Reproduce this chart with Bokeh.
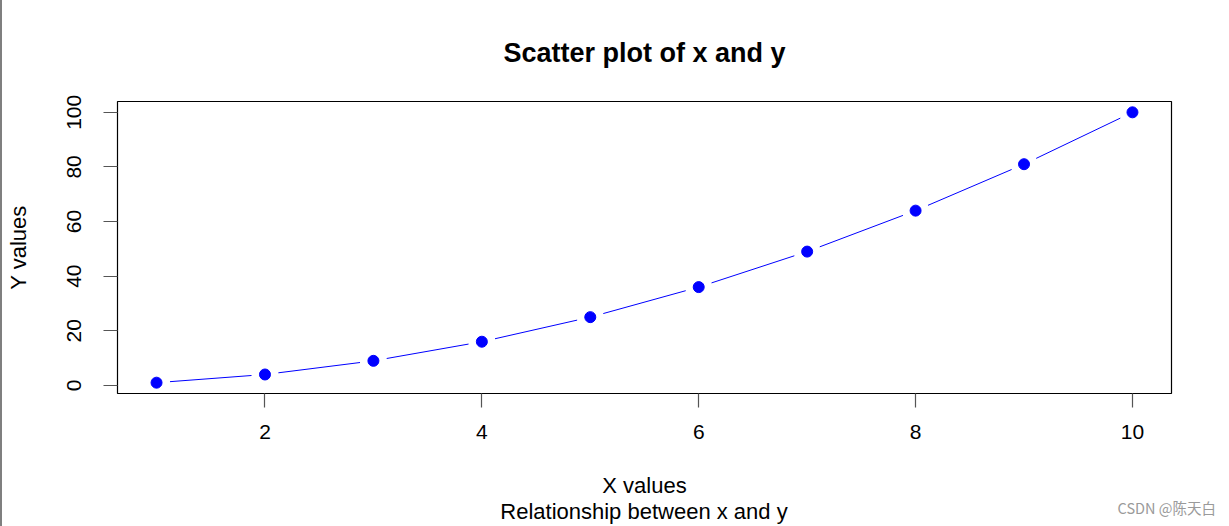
import numpy as np
from bokeh.plotting import figure
from bokeh.models import Range1d, FixedTicker, Div
from bokeh.layouts import row, column
from bokeh.embed import file_html
from bokeh.resources import INLINE

# data
x_vals = [1, 2, 3, 4, 5, 6, 7, 8, 9, 10]
y_vals = [1, 4, 9, 16, 25, 36, 49, 64, 81, 100]
x_ticks = [2, 4, 6, 8, 10]
y_ticks = [0, 20, 40, 60, 80, 100]

subtitle = "Relationship between x and y"
credit = "CSDN @陈天白"

FONT = "Liberation Sans"
W, H = 1227, 526
FOOT = 26
PH = H - FOOT
BL, BR, BT, BB = 115, 58, 101, 106
FW, FH = W - BL - BR, PH - BT - BB

# R-style 4% padding around the data extent
xr = (min(x_vals), max(x_vals))
yr = (min(y_vals), max(y_vals))
xpad = (xr[1] - xr[0]) * 0.04
ypad = (yr[1] - yr[0]) * 0.04
x0, x1 = xr[0] - xpad, xr[1] + xpad
y0, y1 = yr[0] - ypad, yr[1] + ypad

p = figure(width=W, height=PH, output_backend="svg", toolbar_location=None,
           x_range=Range1d(x0, x1), y_range=Range1d(y0, y1),
           min_border_left=BL, min_border_right=BR,
           min_border_top=BT, min_border_bottom=BB, margin=0)

p.background_fill_color = "white"
p.border_fill_color = "white"
p.outline_line_color = "black"
p.outline_line_width = 1.2
p.grid.visible = False

p.title.text = "Scatter plot of x and y"
p.title.align = "center"
p.title.text_font = FONT
p.title.text_font_size = "27px"
p.title.text_font_style = "bold"
p.title.text_color = "black"
p.title.standoff = 67

for ax in (p.xaxis[0], p.yaxis[0]):
    ax.axis_line_color = None
    ax.major_tick_line_color = "#555555"
    ax.major_tick_line_width = 1.2
    ax.major_tick_in = 0
    ax.major_tick_out = 14
    ax.minor_tick_line_color = None
    ax.major_label_text_font = FONT
    ax.major_label_text_font_size = "21px"
    ax.major_label_text_color = "black"
    ax.axis_label_text_font = FONT
    ax.axis_label_text_font_size = "22px"
    ax.axis_label_text_font_style = "normal"
    ax.axis_label_text_color = "black"

p.xaxis.ticker = FixedTicker(ticks=x_ticks)
p.yaxis.ticker = FixedTicker(ticks=y_ticks)
p.yaxis.major_label_orientation = "vertical"
p.xaxis.axis_label = "X values"
p.yaxis.axis_label = "Y values"
p.xaxis.major_label_standoff = 17
p.xaxis.axis_label_standoff = 31
p.yaxis.major_label_standoff = 22
p.yaxis.axis_label_standoff = 34

# connecting segments with gaps around each point (type "b")
gap = 13.5
sx = FW / (x1 - x0)
sy = FH / (y1 - y0)
xa, ya, xb, yb = [], [], [], []
for i in range(len(x_vals) - 1):
    dxp = (x_vals[i + 1] - x_vals[i]) * sx
    dyp = (y_vals[i + 1] - y_vals[i]) * sy
    L = np.hypot(dxp, dyp)
    if L <= 2 * gap:
        continue
    fx, fy = dxp / L * gap, dyp / L * gap
    xa.append(x_vals[i] + fx / sx)
    ya.append(y_vals[i] + fy / sy)
    xb.append(x_vals[i + 1] - fx / sx)
    yb.append(y_vals[i + 1] - fy / sy)

p.segment(x0=xa, y0=ya, x1=xb, y1=yb, line_color="blue", line_width=1)
p.scatter(x_vals, y_vals, size=11, fill_color="blue", line_color="blue")

# footer strip: sub-caption centred under the frame, credit at the right
centre = BL + FW / 2
foot_html = (
    f'<div style="position:relative;width:{W}px;height:{FOOT}px;">'
    f'<span style="position:absolute;left:{centre - 400:.0f}px;width:800px;top:0px;'
    f'line-height:24px;text-align:center;font-family:\'{FONT}\';font-size:22px;'
    f'color:black;white-space:nowrap;">{subtitle}</span>'
    f'<span style="position:absolute;right:13px;top:-2px;line-height:20px;'
    f'font-family:\'Noto Sans CJK SC\';font-size:14.5px;color:#9a9a9a;'
    f'white-space:nowrap;">{credit}</span>'
    f'</div>'
)
foot = Div(text=foot_html, width=W, height=FOOT, margin=0)

edge = Div(width=2, height=H, margin=0,
           styles={"background-color": "#7f7f7f"})

layout = row(edge, column(p, foot, spacing=0, margin=0), spacing=0, margin=0)
open("out.html", "w").write(file_html(layout, INLINE))
